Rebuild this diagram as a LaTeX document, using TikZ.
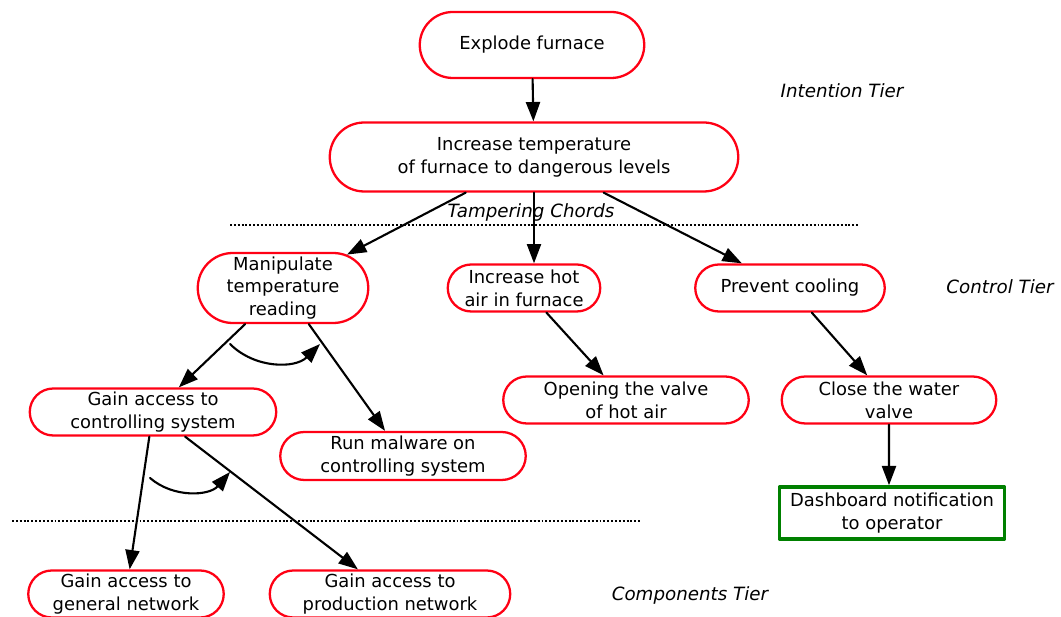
\documentclass[tikz,border=0pt]{standalone}
\usepackage{fontspec}
\setmainfont{DejaVu Sans}
\usetikzlibrary{shapes.misc,arrows.meta}

\begin{document}
\begin{tikzpicture}[x=0.02cm,y=-0.02cm,line cap=round,line join=round,
  >={Triangle[length=11pt,width=8pt]},
  every node/.style={font=\fontsize{10.2}{13}\selectfont,align=center,inner sep=1pt},
  goal/.style={draw=red!92!magenta,line width=1.3pt,rounded rectangle,fill=white},
  alert/.style={draw=green!50!black,line width=2pt,rectangle,fill=white},
  link/.style={->,line width=1.2pt},
  tier/.style={font=\fontsize{10.4}{13}\selectfont\itshape},
  split/.style={line cap=butt,dash pattern=on 1.1pt off 1.1pt,line width=1.4pt}]
  \def\px{0.02cm}
  \useasboundingbox (0,0) rectangle (1061,617);
  % 分隔线与层名
  \draw[split] (230,225) -- (858,225);
  \draw[split] (12,521) -- (640,521);
  \node[tier] (intent) at (842,91) {Intention Tier};
  \node[tier] (control) at (1000,287) {Control Tier};
  \node[tier] (compo) at (690,595) {Components Tier};
  % 意图层
  \node[goal,minimum width=228*\px,minimum height=66*\px] (explode) at (532,45) {Explode furnace};
  \node[goal,minimum width=412*\px,minimum height=69*\px] (heat) at (534,157)
    {Increase temperature\\of furnace to dangerous levels};
  \node[tier] (chords) at (531,212) {Tampering Chords};
  % 控制层
  \node[goal,minimum width=174*\px,minimum height=70*\px] (reading) at (283,288)
    {Manipulate\\temperature\\reading};
  \node[goal,minimum width=156*\px,minimum height=47*\px] (hotair) at (524,288)
    {Increase hot\\air in furnace};
  \node[goal,minimum width=193*\px,minimum height=47*\px] (cooling) at (790,288) {Prevent cooling};
  \node[goal,minimum width=250*\px,minimum height=47*\px] (ctlsys) at (153,412)
    {Gain access to\\controlling system};
  \node[goal,minimum width=249*\px,minimum height=48*\px] (malware) at (403,456)
    {Run malware on\\controlling system};
  \node[goal,minimum width=249*\px,minimum height=47*\px] (valve) at (626,400)
    {Opening the valve\\of hot air};
  \node[goal,minimum width=218*\px,minimum height=47*\px] (water) at (889,400)
    {Close the water\\valve};
  \node[alert,minimum width=225*\px,minimum height=52*\px] (dash) at (892,513)
    {Dashboard notification\\to operator};
  % 组件层
  \node[goal,minimum width=199*\px,minimum height=47*\px] (general) at (126,594)
    {Gain access to\\general network};
  \node[goal,minimum width=244*\px,minimum height=47*\px] (product) at (390,594)
    {Gain access to\\production network};
  % 连线
  \draw[link] (explode) -- (heat);
  \draw[link] (heat) -- (reading);
  \draw[link] (heat.south) -- (heat.south |- hotair.north);
  \draw[link] (heat) -- (cooling);
  \draw[link] (reading) -- (ctlsys);
  \draw[link] (reading) -- (malware);
  \draw[link] (hotair) -- (valve);
  \draw[link] (cooling) -- (water);
  \draw[link] (water) -- (water |- dash.north);
  \draw[link] (ctlsys) -- (general);
  \draw[link] (ctlsys) -- (product);
  % 与关系弧
  \draw[link] (230,344) to[bend right=45] (320,344);
  \draw[link] (150,478) to[bend right=45] (230,472);
\end{tikzpicture}
\end{document}
